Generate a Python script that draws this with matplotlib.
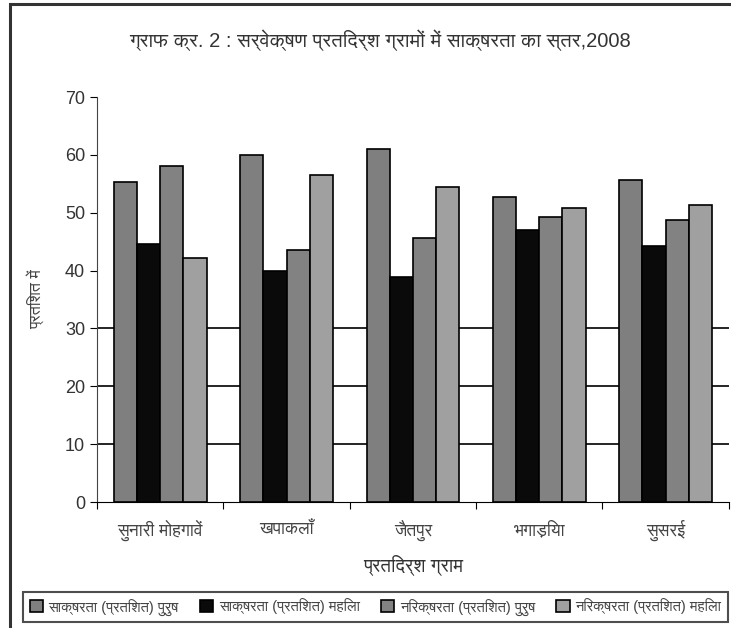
import numpy as np
import matplotlib
matplotlib.use("Agg")
import matplotlib.pyplot as plt
from matplotlib import font_manager
from matplotlib.ft2font import FT2Font
from matplotlib.patches import Rectangle

# data: literacy / illiteracy (%) in the sampled villages
villages = ["सुनारी मोहगावें", "खपाकलाँ", "जैतपुर", "भगाड़िया", "सुसरई"]
lit_male = [55.3, 60.0, 61.0, 52.8, 55.6]
lit_female = [44.6, 39.9, 38.9, 47.0, 44.3]
illit_male = [58.0, 43.6, 45.6, 49.2, 48.7]
illit_female = [42.2, 56.5, 54.5, 50.8, 51.3]
series_names = ["साक्षरता (प्रतिशत) पुरुष", "साक्षरता (प्रतिशत) महिला",
                "निरक्षरता (प्रतिशत) पुरुष", "निरक्षरता (प्रतिशत) महिला"]
title = "ग्राफ क्र. 2 : सर्वेक्षण प्रतिदर्श ग्रामों में साक्षरता का स्तर,2008"


def find_font(ch):
    # pick a font that has Devanagari, preferring proportional ones
    found = []
    for f in font_manager.fontManager.ttflist:
        try:
            if ord(ch) in FT2Font(f.fname).get_charmap():
                found.append(f.name)
        except Exception:
            pass
    found.sort(key=lambda n: ("Mono" in n, "Sans" not in n))
    return found[0] if found else None


deva = find_font("क")
fams = ["Liberation Sans"] + ([deva] if deva else []) + ["DejaVu Sans"]
plt.rcParams["font.family"] = fams

fig = plt.figure(figsize=(7.31, 6.28), dpi=100)
ax = fig.add_axes([0.1327, 0.2006, 0.8643, 0.6449])

colors = ["#7f7f7f", "#0a0a0a", "#828282", "#a0a0a0"]
series = [lit_male, lit_female, illit_male, illit_female]
x = np.arange(len(villages))
w = 0.1835
for i, (vals, c, name) in enumerate(zip(series, colors, series_names)):
    ax.bar(x + (i - 1.5) * w, vals, w, color=c, edgecolor="black",
           linewidth=1.2, label=name, zorder=3)

for g in [10, 20, 30]:
    ax.axhline(g, color="black", linewidth=1.2, zorder=1)

ax.set_xlim(-0.5, len(villages) - 0.5)
ax.set_ylim(0, 70)
ax.set_yticks(range(0, 71, 10))
ax.set_xticks(np.arange(len(villages) + 1) - 0.5)
ax.set_xticklabels([])
ax.set_xticks(x, minor=True)
ax.set_xticklabels(villages, minor=True, fontsize=12.5, color="#444444")
ax.tick_params(axis="x", which="minor", length=0, pad=13)
ax.tick_params(axis="x", which="major", length=5, direction="out")
ax.tick_params(axis="y", length=5, labelsize=13, labelcolor="#333333")
for s in ["top", "right"]:
    ax.spines[s].set_visible(False)
ax.spines["left"].set_color("#444444")
ax.spines["bottom"].set_color("black")

ax.set_xlabel("प्रतिदर्श ग्राम", fontsize=13.5, color="#333333", labelpad=10)
ax.set_ylabel("प्रतिशत में", fontsize=11.5, color="#444444", labelpad=14)
fig.text(0.52, 0.936, title, ha="center", va="center", fontsize=14.5,
         color="#333333")

# outer frame around the chart area
fig.patches.append(Rectangle((10 / 731, -0.05), 1.0, 1 - 4 / 628 + 0.05,
                             transform=fig.transFigure, fill=False,
                             edgecolor="#333333", linewidth=2.2))

leg = fig.legend(loc="center", mode="expand",
                 bbox_to_anchor=(23 / 731, 1 - 623 / 628, 705 / 731, 32 / 628),
                 ncol=4, fontsize=10.5, frameon=True, fancybox=False,
                 edgecolor="#222222", handlelength=0.9, handleheight=0.9,
                 handletextpad=0.4, columnspacing=0.4, borderpad=0.45,
                 borderaxespad=0)
leg.get_frame().set_linewidth(1.5)
for t in leg.get_texts():
    t.set_color("#444444")

fig.savefig("out.png", dpi=100)
